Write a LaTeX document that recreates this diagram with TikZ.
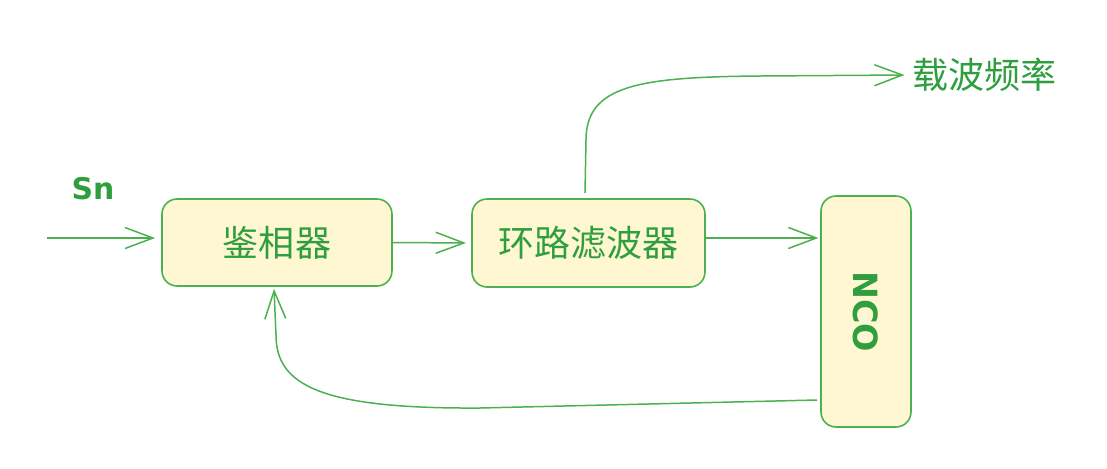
\documentclass[tikz,border=0pt]{standalone}
\usepackage{fontspec}
\newfontfamily\cjk{Noto Sans CJK SC}
\newfontfamily\hand{DejaVu Sans}
\usetikzlibrary{arrows.meta}
\definecolor{lgreen}{HTML}{4CAF50}
\definecolor{tgreen}{HTML}{2E9E3E}
\definecolor{lfill}{HTML}{FEF7D2}
\tikzset{
  box/.style={draw=lgreen, line width=0.9pt, fill=lfill, rounded corners=0.3cm, text=tgreen, font=\cjk\fontsize{20.5}{24}\selectfont, inner sep=0pt},
  arr/.style={draw=lgreen, line width=0.85pt, -{Straight Barb[length=0.56cm,width=0.42cm]}},
  lbl/.style={text=tgreen, font=\cjk\fontsize{20.5}{24}\selectfont, inner sep=0pt},
  hlbl/.style={text=tgreen, font=\hand\bfseries\fontsize{17}{19}\selectfont, inner sep=0pt}
}
\begin{document}
\begin{tikzpicture}[x=0.02cm, y=-0.02cm]
\useasboundingbox (0,0) rectangle (1107,468);
\node[box, minimum width=4.6cm, minimum height=1.74cm] (pd) at (277,242.5) {鉴相器};
\node[box, minimum width=4.66cm, minimum height=1.76cm] (lf) at (588.5,243) {环路滤波器};
\node[box, minimum width=1.8cm, minimum height=4.62cm, font=\hand\bfseries\fontsize{19}{21}\selectfont] (nco) at (866,311.5) {\rotatebox{-90}{NCO}};
\node[hlbl] (sn) at (93,189) {Sn};
\node[lbl, anchor=west] (cf) at (912,75) {载波频率};
\coordinate (in) at (47,238);
\coordinate (fb) at (817,400);
\draw[arr, shorten >=3.5pt] (in) -- (in -| pd.west);
\draw[arr, shorten >=3pt] (pd.east) -- (lf.west);
\draw[arr, shorten >=1pt] ([yshift=0.1cm]lf.east) -- ([yshift=0.1cm]lf.east -| nco.west);
\draw[arr] ([xshift=-0.07cm, yshift=0.1cm]lf.north) -- (586,140) .. controls (586,85) and (640,77) .. (760,76) -- ([xshift=-0.15cm]cf.west);
\draw[arr] (fb) -- (480,408) .. controls (320,409) and (276,385) .. (276,335) -- ([xshift=-0.06cm, yshift=-0.04cm]pd.south);
\end{tikzpicture}
\end{document}
